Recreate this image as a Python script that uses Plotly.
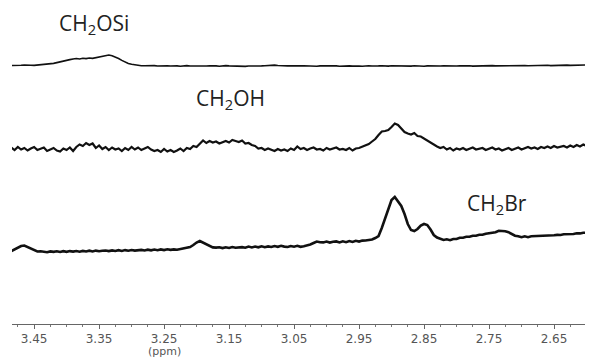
import numpy as np
import plotly.graph_objects as go

# chemical shift grid (ppm), 0.005 ppm steps from 3.485 down to 2.590
ppm = np.round(3.485 - 0.005 * np.arange(180), 3)

# intensities (arbitrary units, 0 = baseline of each trace)
ch2osi = [
    0.5, 0.8, 1.0, 0.7, 0.9, 1.2, 0.8, 0.6, 0.9, 1.1,
    1.0, 1.3, 1.8, 2.6, 3.4, 4.3, 5.0, 5.8, 6.4, 7.0,
    7.5, 7.0, 7.8, 7.4, 8.0, 7.6, 8.3, 8.8, 9.6, 10.6,
    11.0, 10.2, 9.0, 7.5, 5.6, 4.0, 2.6, 1.7, 1.0, 0.6,
    0.3, 0.2, 0.5, 0.1, 0.4, 0.0, 0.3, 0.6, 0.2, 0.0,
    0.3, 0.1, -0.2, 0.2, 0.4, 0.0, -0.1, 0.3, 0.1, 0.2,
    0.0, 0.3, 0.5, 0.1, -0.2, 0.2, 0.4, 0.1, -0.1, 0.2,
    -0.3, -0.6, -0.4, 0.0, 0.2, -0.1, 0.3, 0.1, 0.2, 0.6,
    0.4, 0.9, 0.5, 0.2, -0.2, 0.1, 0.3, 0.0, 0.2, 0.1,
    0.2, -0.1, 0.3, 0.0, -0.3, 0.1, 0.2, -0.2, 0.0, 0.3,
    0.1, -0.2, 0.0, 0.3, 0.1, -0.1, 0.2, 0.0, -0.3, 0.1,
    0.2, 0.0, -0.2, 0.1, 0.3, 0.0, -0.1, 0.2, 0.1, -0.2,
    0.0, 0.2, 0.1, -0.1, 0.3, 0.0, 0.2, -0.2, 0.1, 0.0,
    -0.2, 0.1, 0.0, 0.3, 0.1, -0.1, 0.2, 0.0, 0.1, 0.3,
    0.0, 0.2, -0.1, 0.1, 0.3, 0.1, 0.0, 0.2, 0.4, 0.1,
    0.2, 0.0, 0.3, 0.1, 0.4, 0.2, 0.1, 0.3, 0.5, 0.2,
    0.4, 0.3, 0.6, 0.4, 0.5, 0.7, 0.4, 0.6, 0.8, 0.5,
    0.7, 0.9, 0.6, 0.8, 1.0, 0.8, 1.1, 0.9, 1.2, 1.0,
]

ch2oh = [
    1.5, -1.0, 2.0, -0.5, 1.0, -1.5, 0.5, 2.0, -1.0, 0.0,
    1.5, -2.0, -0.5, 1.0, -1.5, -2.5, 0.5, -1.0, 1.5, -2.0,
    2.0, 4.5, 3.0, 6.0, 4.0, 5.5, 1.0, 3.5, 0.0, 2.0,
    -1.0, 1.5, -0.5, 0.5, -2.0, 1.0, -1.0, 2.0, -0.5, 1.5,
    -1.0, 0.5, 2.0, -0.5, -2.0, -1.0, -3.0, 0.0, -2.5, -1.0,
    -3.0, -1.5, 0.5, -2.0, 1.0, 0.0, 3.0, 2.0, 5.0, 8.5,
    6.0, 8.0, 6.5, 7.5, 5.5, 7.0, 8.0, 6.5, 9.0, 8.0,
    7.0, 8.5, 5.5, 6.0, 4.0, 3.0, 0.5, 1.0, -1.0, 0.5,
    -1.0, -2.0, 0.0, -1.5, -0.5, -2.0, 0.5, -1.0, 2.5, 0.0,
    1.0, -1.0, 0.5, 1.5, -0.5, 0.0, -1.5, 1.0, -0.5, 0.5,
    1.5, -0.5, 0.0, -1.0, 1.0, -1.5, 0.5, 1.0, 2.5, 4.0,
    5.0, 7.5, 10.0, 14.0, 17.5, 18.0, 19.0, 22.0, 25.5, 24.0,
    21.0, 17.0, 15.5, 14.5, 16.0, 13.0, 12.5, 10.5, 8.0, 6.0,
    4.5, 2.5, 1.0, 2.0, -0.5, 1.0, -1.5, 0.5, -0.5, 1.0,
    -1.0, 0.5, 1.5, -0.5, 0.0, 1.0, -1.0, 0.5, 1.5, -0.5,
    0.5, -1.5, -0.5, 1.0, -1.0, 0.0, 1.5, -0.5, 1.0, 2.0,
    0.5, 1.5, 0.0, 2.0, 1.0, 2.5, 1.0, 3.0, 1.5, 2.0,
    3.0, 1.5, 3.5, 2.0, 4.0, 2.5, 4.5, 3.0, 5.0, 4.0,
]

ch2br = [
    1.0, 2.5, 4.5, 6.0, 6.5, 5.0, 3.0, 1.5, 0.5, 0.8,
    0.3, -0.2, 0.6, 0.1, 0.7, 0.0, 0.8, 0.2, 0.9, 0.4,
    1.0, 0.3, 1.1, 0.5, 1.3, 0.6, 1.4, 0.8, 1.2, 1.5,
    0.9, 1.6, 1.0, 1.8, 1.1, 1.9, 1.3, 2.0, 1.4, 1.9,
    2.1, 1.5, 2.3, 1.7, 2.5, 1.8, 2.6, 1.9, 2.7, 2.1,
    2.6, 2.2, 2.9, 3.0, 3.8, 5.0, 7.0, 9.5, 11.0, 9.5,
    8.0, 6.0, 4.6, 4.4, 4.8, 3.9, 4.7, 4.0, 5.0, 4.2,
    4.8, 4.9, 4.3, 5.4, 4.6, 5.5, 4.7, 5.7, 4.8, 5.6,
    5.0, 6.0, 5.2, 6.2, 5.4, 5.0, 6.0, 5.3, 6.2, 5.2,
    5.8, 6.5, 7.5, 9.0, 10.5, 9.8, 9.6, 10.4, 9.4, 10.2,
    10.6, 9.6, 10.7, 9.8, 11.0, 10.0, 11.2, 10.4, 11.4, 11.5,
    12.0, 12.5, 14.0, 16.0, 24.0, 34.0, 44.0, 52.0, 55.0, 51.0,
    46.0, 38.0, 28.0, 22.0, 21.0, 23.0, 26.5, 28.0, 27.0, 22.5,
    17.0, 14.5, 13.0, 12.0, 12.7, 11.8, 13.0, 13.0, 14.2, 14.3,
    15.2, 15.3, 16.3, 16.2, 17.3, 17.2, 18.3, 18.8, 19.8, 19.7,
    21.2, 21.3, 20.7, 19.8, 18.2, 16.3, 15.7, 14.8, 15.7, 14.8,
    15.7, 15.8, 15.7, 16.0, 16.3, 16.3, 16.5, 16.8, 17.1, 17.0,
    17.7, 17.6, 17.8, 18.0, 18.8, 18.6, 19.3, 19.3, 20.2, 20.5,
]

labels = ["CH<sub>2</sub>OSi", "CH<sub>2</sub>OH", "CH<sub>2</sub>Br"]
label_ppm = [3.358, 3.148, 2.738]

# vertical stacking (offset of each trace baseline) and line widths
offsets = [258, 175, 72]
widths = [1.6, 2.2, 2.6]
label_y = [300, 225, 120]

fig = go.Figure()
for ys, off, w in zip([ch2osi, ch2oh, ch2br], offsets, widths):
    fig.add_trace(go.Scatter(
        x=ppm, y=np.array(ys) + off, mode="lines",
        line=dict(color="#111111", width=w), showlegend=False,
        hoverinfo="skip",
    ))

for txt, xp, yp in zip(labels, label_ppm, label_y):
    fig.add_annotation(x=xp, y=yp, text=txt, showarrow=False,
                       font=dict(family="Open Sans", size=21, color="#222222"))

fig.add_annotation(x=3.25, y=-0.087, yref="paper", yanchor="middle", text="(ppm)",
                   showarrow=False,
                   font=dict(family="DejaVu Sans", size=11, color="#555555"))

# page body has an 8px margin, so the figure is a bit smaller than the window
fig.update_layout(
    width=585, height=350,
    margin=dict(l=4, r=0, t=0, b=34),
    plot_bgcolor="white", paper_bgcolor="white",
    xaxis=dict(
        range=[3.484, 2.590],
        tickmode="linear", tick0=0.05, dtick=0.1, tickformat=".2f",
        showline=True, linecolor="#666666", linewidth=1,
        ticks="outside", ticklen=4, tickcolor="#666666",
        minor=dict(dtick=0.025, tick0=0.05, ticks="outside", ticklen=2, tickcolor="#777777"),
        showgrid=False, zeroline=False,
        tickfont=dict(family="DejaVu Sans", size=12, color="#555555"),
    ),
    yaxis=dict(range=[0, 316], visible=False, showgrid=False, zeroline=False),
)

fig.write_html("out.html")
